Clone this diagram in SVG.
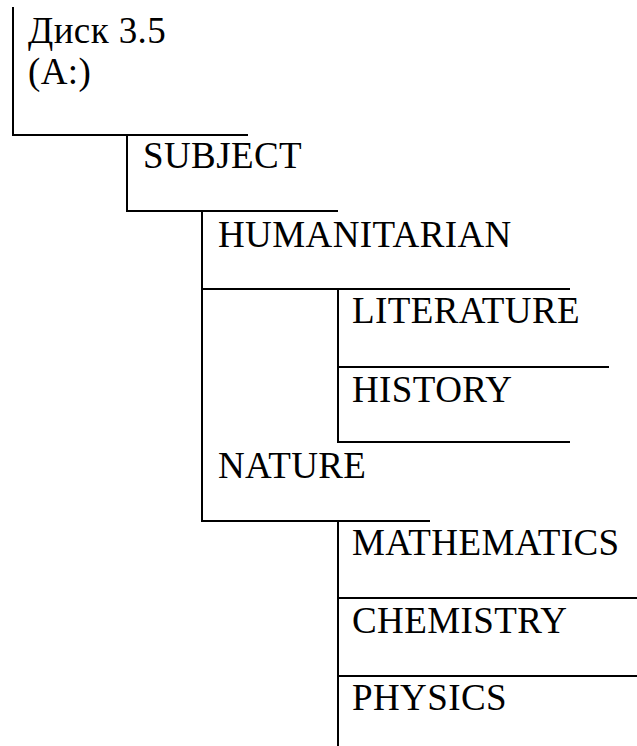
<svg xmlns="http://www.w3.org/2000/svg" width="637" height="746" viewBox="0 0 637 746">
  <style>
    .bg { fill: #ffffff; }
    .ln { stroke: #000000; stroke-width: 2; fill: none; stroke-linecap: square; }
    .lbl { font-family: "Liberation Serif", "Times New Roman", serif; font-size: 37px; letter-spacing: 0.4px; fill: #000000; }
  </style>
  <rect class="bg" x="0" y="0" width="637" height="746"/>

  <!-- tree lines: left border and bottom border of each level -->
  <g id="connectors">
    <path class="ln" d="M13,8 V135 H247"/>
    <path class="ln" d="M127,135 V211 H337"/>
    <path class="ln" d="M202,211 V521 H429"/>
    <path class="ln" d="M202,289 H569"/>
    <path class="ln" d="M338,289 V442 H569"/>
    <path class="ln" d="M338,367 H608"/>
    <path class="ln" d="M338,521 V746"/>
    <path class="ln" d="M338,598 H637"/>
    <path class="ln" d="M338,676 H637"/>
  </g>

  <g id="disk">
    <text class="lbl" x="28" y="43">Диск 3.5</text>
    <text class="lbl" x="28" y="84">(A:)</text>
  </g>
  <g id="subject"><text class="lbl" x="143" y="168">SUBJECT</text></g>
  <g id="humanitarian"><text class="lbl" x="218" y="247">HUMANITARIAN</text></g>
  <g id="literature"><text class="lbl" x="352" y="323">LITERATURE</text></g>
  <g id="history"><text class="lbl" x="352" y="402">HISTORY</text></g>
  <g id="nature"><text class="lbl" x="218" y="478">NATURE</text></g>
  <g id="mathematics"><text class="lbl" x="352" y="555">MATHEMATICS</text></g>
  <g id="chemistry"><text class="lbl" x="352" y="633">CHEMISTRY</text></g>
  <g id="physics"><text class="lbl" x="352" y="710">PHYSICS</text></g>
</svg>
